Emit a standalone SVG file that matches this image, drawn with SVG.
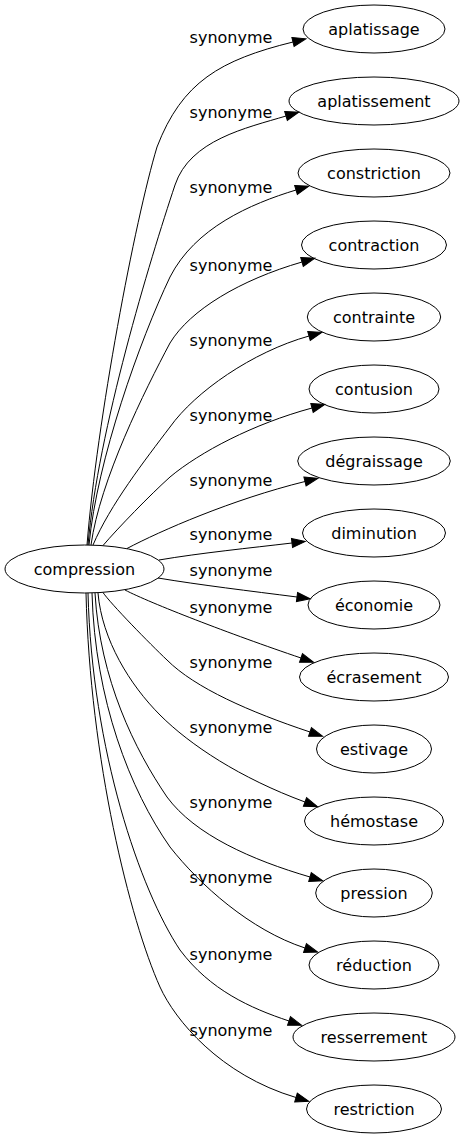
<svg xmlns="http://www.w3.org/2000/svg" width="465" height="1139" viewBox="0 0 465 1139">
<style>
.n ellipse{fill:none;stroke:#000;stroke-width:1}
.n text{font-family:"DejaVu Sans","Liberation Sans",sans-serif;font-size:16px;fill:#000;text-anchor:middle}
#edges path{fill:none;stroke:#000;stroke-width:1;marker-end:url(#ah)}
#edges text{font-family:"DejaVu Sans","Liberation Sans",sans-serif;font-size:16px;fill:#000;text-anchor:middle}
</style>
<defs>
<marker id="ah" markerUnits="userSpaceOnUse" markerWidth="15" markerHeight="11" viewBox="0 -5.5 15 11" refX="0" refY="0" orient="auto" overflow="visible">
<path d="M0,-4.6 L13.3,0 L0,4.6 z" fill="#000" stroke="#000" stroke-width="1"/>
</marker>
</defs>
<rect width="465" height="1139" fill="#fff"/>
<g id="edges">
<path d="M87,545 C97,420 135,220 157,147 C182,82 220,60 293,42"/>
<text x="231" y="43">synonyme</text>
<path d="M88,545 C98,430 150,260 175,185 C190,140 246,128 286,116"/>
<text x="231" y="118">synonyme</text>
<path d="M89,545 C97,460 140,340 170,277 C195,228 250,204 296,190"/>
<text x="231" y="193">synonyme</text>
<path d="M91,545 C100,480 145,390 170,343 C190,310 240,280 302,262"/>
<text x="231" y="271">synonyme</text>
<path d="M93,545 C110,505 145,460 170,427 C195,392 252,352 309,336"/>
<text x="231" y="346">synonyme</text>
<path d="M103,545.5 C118,528 150,495 170,477 C200,452 253,424 312,408"/>
<text x="231" y="421">synonyme</text>
<path d="M127,548.5 C160,531 232,499.5 305,481.5"/>
<text x="231" y="486">synonyme</text>
<path d="M159,560 C200,553 250,548 292,543"/>
<text x="231" y="540">synonyme</text>
<path d="M158,578 C200,585 250,591 297,597"/>
<text x="231" y="576">synonyme</text>
<path d="M125,590 C150,603 230,634 301,658"/>
<text x="231" y="613">synonyme</text>
<path d="M103,592.5 C110,603 150,644 167,660 C195,688 250,712 310,732"/>
<text x="231" y="668">synonyme</text>
<path d="M98,593 C102,640 130,685 160,715 C190,745 240,778 305,802"/>
<text x="231" y="733">synonyme</text>
<path d="M95,593 C100,680 135,750 167,797 C195,835 252,860 310,877"/>
<text x="231" y="808">synonyme</text>
<path d="M92,593 C95,700 130,790 170,847 C200,885 250,930 305,948"/>
<text x="231" y="883">synonyme</text>
<path d="M88,593 C92,750 140,890 180,950 C210,990 250,1008 289,1021"/>
<text x="231" y="960">synonyme</text>
<path d="M86,593 C90,760 130,920 160,987 C175,1020 220,1075 296,1097.5"/>
<text x="231" y="1036">synonyme</text>
</g>
<g id="compression" class="n"><ellipse cx="84.5" cy="569" rx="79.5" ry="24"/><text x="84.5" y="574.5">compression</text></g>
<g id="aplatissage" class="n"><ellipse cx="374" cy="29" rx="71" ry="24"/><text x="374" y="34.5">aplatissage</text></g>
<g id="aplatissement" class="n"><ellipse cx="374" cy="101" rx="85" ry="24"/><text x="374" y="106.5">aplatissement</text></g>
<g id="constriction" class="n"><ellipse cx="374" cy="173" rx="76" ry="24"/><text x="374" y="178.5">constriction</text></g>
<g id="contraction" class="n"><ellipse cx="374" cy="245" rx="72.5" ry="24"/><text x="374" y="250.5">contraction</text></g>
<g id="contrainte" class="n"><ellipse cx="374" cy="317" rx="66.7" ry="24"/><text x="374" y="322.5">contrainte</text></g>
<g id="contusion" class="n"><ellipse cx="374" cy="389" rx="65" ry="24"/><text x="374" y="394.5">contusion</text></g>
<g id="degraissage" class="n"><ellipse cx="374" cy="461" rx="76.3" ry="24"/><text x="374" y="466.5">dégraissage</text></g>
<g id="diminution" class="n"><ellipse cx="374" cy="533" rx="71.5" ry="24"/><text x="374" y="538.5">diminution</text></g>
<g id="economie" class="n"><ellipse cx="374" cy="605" rx="66" ry="24"/><text x="374" y="610.5">économie</text></g>
<g id="ecrasement" class="n"><ellipse cx="374" cy="677" rx="74.5" ry="24"/><text x="374" y="682.5">écrasement</text></g>
<g id="estivage" class="n"><ellipse cx="374" cy="749" rx="57.5" ry="24"/><text x="374" y="754.5">estivage</text></g>
<g id="hemostase" class="n"><ellipse cx="374" cy="821" rx="69.5" ry="24"/><text x="374" y="826.5">hémostase</text></g>
<g id="pression" class="n"><ellipse cx="374" cy="893" rx="58.3" ry="24"/><text x="374" y="898.5">pression</text></g>
<g id="reduction" class="n"><ellipse cx="374" cy="965" rx="65" ry="24"/><text x="374" y="970.5">réduction</text></g>
<g id="resserrement" class="n"><ellipse cx="374" cy="1037" rx="81" ry="24"/><text x="374" y="1042.5">resserrement</text></g>
<g id="restriction" class="n"><ellipse cx="374" cy="1109" rx="67.5" ry="24"/><text x="374" y="1114.5">restriction</text></g>
</svg>
